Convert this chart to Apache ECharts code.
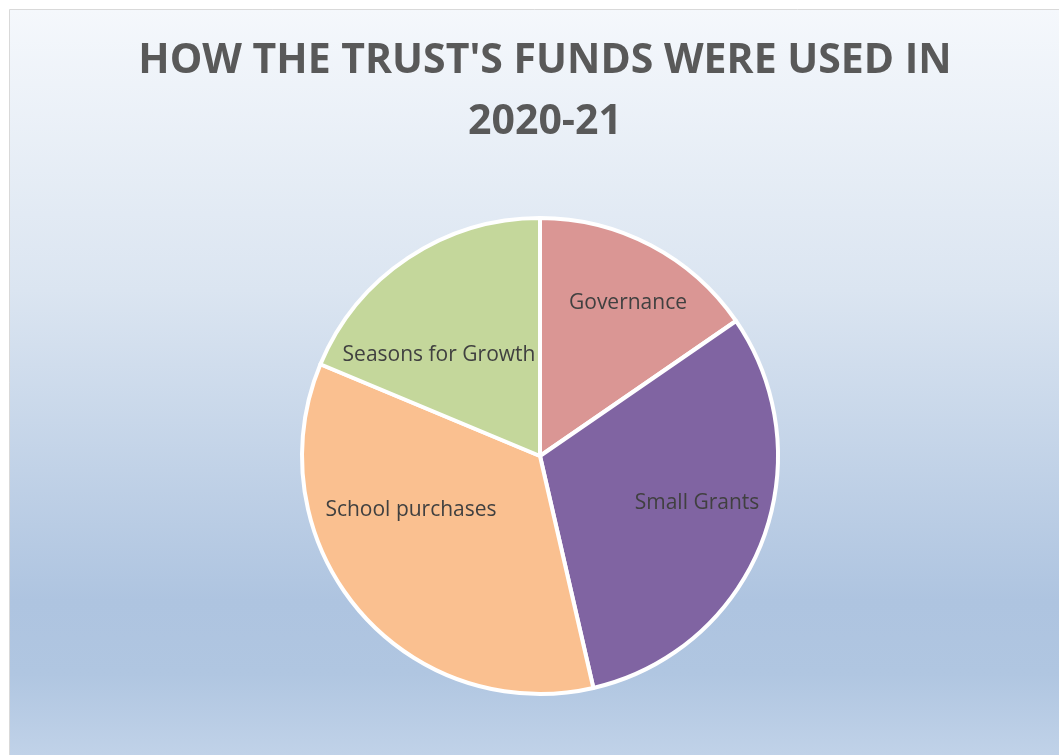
<!DOCTYPE html>
<html><head><meta charset="utf-8">
<script src="https://cdn.jsdelivr.net/npm/echarts@6/dist/echarts.min.js"></script>
<style>html,body{margin:0;padding:0;background:#fff;overflow:hidden}#c{width:1059px;height:755px}</style>
</head><body><div id="c"></div>
<script>
const categories = ['Governance', 'Small Grants', 'School purchases', 'Seasons for Growth'];
const values = [15.4, 31.0, 34.9, 18.7];
const colors = ['#da9694', '#8064a2', '#fac090', '#c4d79b'];
const titleLines = ["HOW THE TRUST'S FUNDS WERE USED IN", '2020-21'];
// label offsets from pie centre (layout only)
const labelOffsets = [[88, -153], [157, 47], [-129, 54], [-101, -101]];
const CX = 540, CY = 456, R = 238;

const chart = echarts.init(document.getElementById('c'));
chart.setOption({
  animation: false,
  graphic: [{
    type: 'rect', z: -10, silent: true,
    shape: { x: 9.5, y: 9.5, width: 1100, height: 800 },
    style: {
      stroke: '#d9d9d9', lineWidth: 1,
      fill: new echarts.graphic.LinearGradient(0, 0, 0, 1, [
        { offset: 0, color: '#f5f8fc' },
        { offset: 0.35, color: '#dbe5f1' },
        { offset: 0.74, color: '#aec4e0' },
        { offset: 0.83, color: '#b0c6e1' },
        { offset: 1, color: '#cbdaed' }
      ])
    }
  }],
  title: {
    text: titleLines.join('\n'),
    left: 540, textAlign: 'center', top: 26,
    textStyle: { fontFamily: 'Open Sans', fontWeight: 'bold', fontSize: 41, color: '#595959', lineHeight: 61 }
  },
  series: [{
    type: 'pie',
    center: [CX, CY], radius: R,
    startAngle: 90, clockwise: true,
    avoidLabelOverlap: false,
    itemStyle: { borderColor: '#ffffff', borderWidth: 4 },
    label: { show: true, position: 'inside', fontFamily: 'Open Sans', fontSize: 21, color: '#404040', formatter: '{b}' },
    labelLine: { show: false },
    labelLayout: function (p) {
      const o = labelOffsets[p.dataIndex];
      return { x: CX + o[0], y: CY + o[1], align: 'center', verticalAlign: 'middle' };
    },
    emphasis: { disabled: true },
    data: categories.map((n, i) => ({ name: n, value: values[i], itemStyle: { color: colors[i] } }))
  }]
});
</script></body></html>
